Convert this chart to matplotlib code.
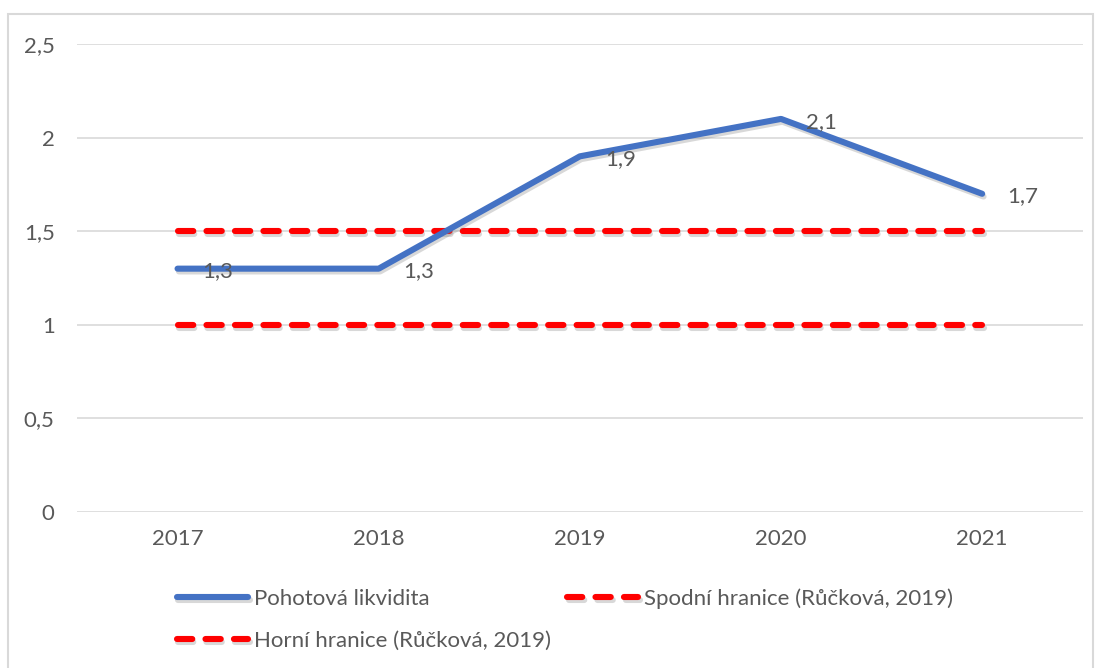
import matplotlib
matplotlib.use("Agg")
import matplotlib.pyplot as plt
import matplotlib.patheffects as pe
from matplotlib.patches import Rectangle

years = ["2017", "2018", "2019", "2020", "2021"]
pohotova = [1.3, 1.3, 1.9, 2.1, 1.7]
spodni = [1.0, 1.0, 1.0, 1.0, 1.0]
horni = [1.5, 1.5, 1.5, 1.5, 1.5]
value_labels = ["1,3", "1,3", "1,9", "2,1", "1,7"]
y_ticks = [0, 0.5, 1, 1.5, 2, 2.5]
y_tick_labels = ["0", "0,5", "1", "1,5", "2", "2,5"]

plt.rcParams['font.family'] = ['Lato', 'DejaVu Sans']
text_color = "#595959"
blue = "#4472C4"
red = "#FF0000"
fs = 16
lw = 4.4

fig = plt.figure(figsize=(10.98, 6.68), dpi=100)
ax = fig.add_axes([0.0701, 0.2335, 0.916, 0.7006])

# chart border like excel
fig.patches.append(Rectangle((8 / 1098, -0.01), (1093 - 8) / 1098, 1 - 14 / 668 + 0.01,
                             transform=fig.transFigure, fill=False,
                             edgecolor="#d9d9d9", linewidth=1.5))

x = list(range(len(years)))
shadow = [pe.SimpleLineShadow(offset=(1, -2), shadow_color="gray", alpha=0.3), pe.Normal()]
dash = (11.0 / lw, 9.5 / lw)

line_p, = ax.plot(x, pohotova, color=blue, linewidth=lw, solid_capstyle="round",
                  solid_joinstyle="round", label="Pohotová likvidita", path_effects=shadow, zorder=4)
line_s, = ax.plot(x, spodni, color=red, linewidth=lw, dashes=dash,
                  dash_capstyle="round", label="Spodní hranice (Růčková, 2019)",
                  path_effects=shadow, zorder=3)
line_h, = ax.plot(x, horni, color=red, linewidth=lw, dashes=dash,
                  dash_capstyle="round", label="Horní hranice (Růčková, 2019)",
                  path_effects=shadow, zorder=3)

for i, v in enumerate(pohotova):
    ax.annotate(value_labels[i], (i, v), xytext=(18, -2), textcoords="offset points",
                ha="left", va="center", fontsize=fs, color=text_color, zorder=5)

ax.set_xlim(-0.5, len(years) - 0.5)
ax.set_ylim(0, 2.5)
ax.set_xticks(x)
ax.set_xticklabels(years)
ax.set_yticks(y_ticks)
ax.set_yticklabels(y_tick_labels)
ax.tick_params(length=0, labelsize=fs, labelcolor=text_color)
ax.tick_params(axis="x", pad=12)
ax.tick_params(axis="y", pad=16)
ax.grid(axis="y", color="#d9d9d9", linewidth=1.2)
ax.set_axisbelow(True)
for s in ax.spines.values():
    s.set_visible(False)

leg = fig.legend([line_p, line_h, line_s],
                 [line_p.get_label(), line_h.get_label(), line_s.get_label()],
                 ncol=2, loc="upper left", bbox_to_anchor=(177 / 1098, 1 - 588 / 668),
                 frameon=False, fontsize=fs, handlelength=3.2, handletextpad=0.25,
                 columnspacing=0.75, labelspacing=1.0, borderpad=0, borderaxespad=0)
for t in leg.get_texts():
    t.set_color(text_color)

fig.savefig("out.png", dpi=100)
